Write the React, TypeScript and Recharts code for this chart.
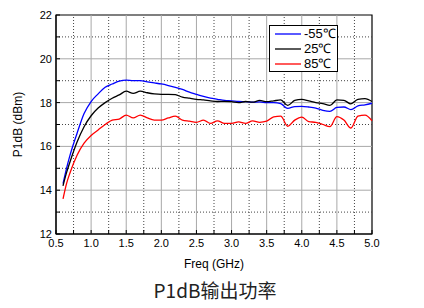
import { LineChart, Line, XAxis, YAxis, ReferenceLine, ReferenceArea } from 'recharts'

const freq = [0.6, 0.65, 0.7, 0.8, 0.9, 1.0, 1.1, 1.2, 1.3, 1.4, 1.5, 1.6, 1.7, 1.8, 1.9, 2.0, 2.1, 2.2, 2.3, 2.4, 2.5, 2.6, 2.7, 2.8, 2.9, 3.0, 3.1, 3.2, 3.3, 3.4, 3.5, 3.6, 3.7, 3.8, 3.9, 4.0, 4.1, 4.2, 4.3, 4.4, 4.5, 4.6, 4.7, 4.8, 4.9, 5.0]

const coldVals = [14.3, 15.0, 15.6, 16.6, 17.5, 18.05, 18.4, 18.7, 18.85, 18.98, 19.03, 19.0, 19.0, 18.95, 18.9, 18.85, 18.78, 18.7, 18.6, 18.48, 18.38, 18.28, 18.2, 18.15, 18.1, 18.08, 18.05, 18.04, 18.02, 18.03, 18.0, 18.0, 17.95, 17.74, 17.82, 17.83, 17.8, 17.75, 17.65, 17.6, 17.78, 17.8, 17.68, 17.85, 17.9, 17.97]
const roomVals = [14.2, 14.8, 15.3, 16.2, 16.9, 17.4, 17.75, 18.0, 18.2, 18.35, 18.52, 18.42, 18.52, 18.45, 18.4, 18.38, 18.38, 18.36, 18.25, 18.2, 18.15, 18.12, 18.08, 18.05, 18.06, 18.04, 18.0, 18.05, 18.02, 18.1, 18.04, 18.08, 18.12, 17.87, 18.1, 18.15, 18.08, 18.0, 17.95, 17.87, 18.12, 18.1, 17.94, 18.15, 18.18, 18.05]
const hotVals = [13.6, 14.3, 14.8, 15.6, 16.15, 16.5, 16.75, 17.0, 17.2, 17.25, 17.43, 17.3, 17.43, 17.3, 17.2, 17.2, 17.3, 17.38, 17.2, 17.15, 17.1, 17.2, 17.05, 17.17, 17.05, 17.05, 17.12, 17.05, 17.17, 17.1, 17.15, 17.35, 17.38, 16.92, 17.2, 17.34, 17.13, 17.1, 17.0, 16.9, 17.36, 17.2, 16.84, 17.38, 17.43, 17.17]

const seriesNames = ['-55℃', '25℃', '85℃']
const seriesColors = ['#0000ff', '#000000', '#ff0000']

const xTicks = [0.5, 0.75, 1.0, 1.25, 1.5, 1.75, 2.0, 2.25, 2.5, 2.75, 3.0, 3.25, 3.5, 3.75, 4.0, 4.25, 4.5, 4.75, 5.0]
const xMajor = [1.0, 1.5, 2.0, 2.5, 3.0, 3.5, 4.0, 4.5]
const xMinor = [0.75, 1.25, 1.75, 2.25, 2.75, 3.25, 3.75, 4.25, 4.75]
const yTicks = [12, 13, 14, 15, 16, 17, 18, 19, 20, 21, 22]
const yMajor = [14, 16, 18, 20]
const yMinor = [13, 15, 17, 19, 21]

const data = freq.map((f, i) => ({ f, cold: coldVals[i], room: roomVals[i], hot: hotVals[i] }))
const keys = ['cold', 'room', 'hot']

const font = 'Liberation Sans, Arial, sans-serif'

function LegendBox() {
  return (
    <div style={{ position: 'absolute', left: 269, top: 25, width: 67, height: 45, border: '1px solid #000', background: '#fff', fontFamily: font, fontSize: 13, lineHeight: '15px' }}>
      {seriesNames.map((n, i) => (
        <div key={n} style={{ display: 'flex', alignItems: 'center', height: 15 }}>
          <svg width={26} height={4} style={{ marginLeft: 5, marginRight: 3 }}>
            <line x1={0} y1={2} x2={26} y2={2} stroke={seriesColors[i]} strokeWidth={1.3} />
          </svg>
          <span style={{ color: '#000' }}>{n}</span>
        </div>
      ))}
    </div>
  )
}

export default function App() {
  return (
    <div style={{ position: 'absolute', left: 0, top: 0, width: 424, height: 308, background: '#fff' }}>
      <LineChart width={424} height={308} data={data} margin={{ top: 15, right: 52, bottom: 40, left: 0 }}>
        {xMinor.map((v) => (
          <ReferenceLine key={'xm' + v} x={v} stroke="#444" strokeDasharray="1 2" />
        ))}
        {yMinor.map((v) => (
          <ReferenceLine key={'ym' + v} y={v} stroke="#444" strokeDasharray="1 2" />
        ))}
        {xMajor.map((v) => (
          <ReferenceLine key={'xM' + v} x={v} stroke="#a8a8a8" />
        ))}
        {yMajor.map((v) => (
          <ReferenceLine key={'yM' + v} y={v} stroke="#a8a8a8" />
        ))}
        <XAxis
          dataKey="f"
          type="number"
          domain={[0.5, 5.0]}
          ticks={xTicks}
          interval={0}
          tickFormatter={(v: number) => (xMajor.includes(v) || v === 0.5 || v === 5.0 ? v.toFixed(1) : '')}
          tickSize={-4}
          tickMargin={9}
          axisLine={{ stroke: '#000' }}
          tickLine={{ stroke: '#000' }}
          tick={{ fill: '#000', fontSize: 11, fontFamily: font }}
          height={34}
          label={{ value: 'Freq (GHz)', position: 'insideBottom', offset: 0, style: { fill: '#000', fontSize: 12, fontFamily: font } }}
        />
        <YAxis
          type="number"
          domain={[12, 22]}
          ticks={yTicks}
          interval={0}
          tickFormatter={(v: number) => (v % 2 === 0 ? String(v) : '')}
          tickSize={-4}
          tickMargin={8}
          width={56}
          axisLine={{ stroke: '#000' }}
          tickLine={{ stroke: '#000' }}
          tick={{ fill: '#000', fontSize: 11, fontFamily: font }}
          label={{ value: 'P1dB (dBm)', angle: -90, position: 'insideLeft', offset: 18, style: { textAnchor: 'middle', fill: '#000', fontSize: 12, fontFamily: font } }}
        />
        <ReferenceArea x1={0.5} x2={5.0} y1={12} y2={22} fill="none" stroke="#000" strokeWidth={1.2} />
        {keys.map((k, i) => (
          <Line
            key={k}
            type="monotone"
            dataKey={k}
            name={seriesNames[i]}
            stroke={seriesColors[i]}
            strokeWidth={1.3}
            dot={false}
            isAnimationActive={false}
          />
        ))}
      </LineChart>
      <LegendBox />
      <div style={{ position: 'absolute', top: 276, left: 0, width: 430, textAlign: 'center', fontFamily: 'Noto Sans CJK SC', fontSize: 19, color: '#222' }}>
        P1dB输出功率
      </div>
    </div>
  )
}
